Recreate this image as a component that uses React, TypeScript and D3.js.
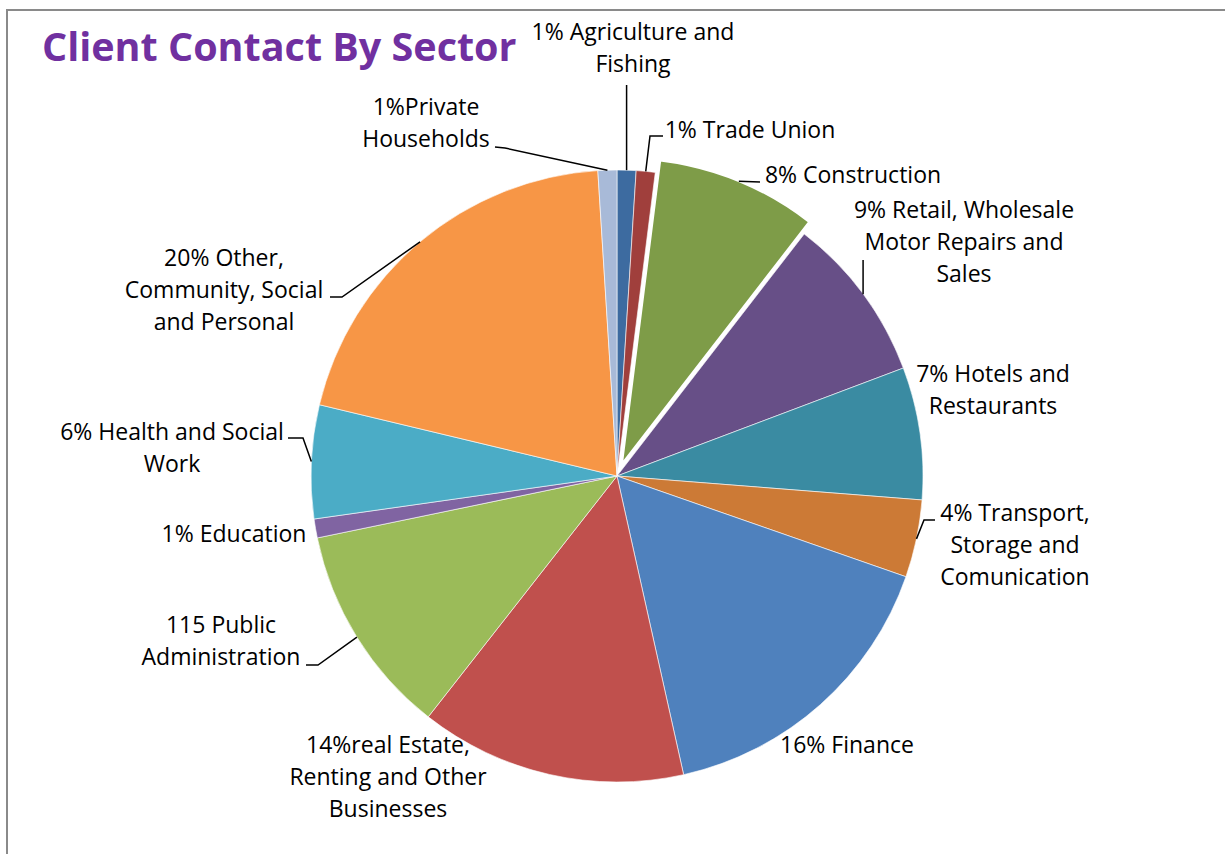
import React from "react";
import * as d3 from "d3";

// ---------- data ----------
const sectors = [
  "Agriculture and Fishing",
  "Trade Union",
  "Construction",
  "Retail, Wholesale Motor Repairs and Sales",
  "Hotels and Restaurants",
  "Transport, Storage and Comunication",
  "Finance",
  "Real Estate, Renting and Other Businesses",
  "Public Administration",
  "Education",
  "Health and Social Work",
  "Other, Community, Social and Personal",
  "Private Households",
];
const values = [1.0, 1.0, 8.5, 8.8, 7.0, 4.1, 16.2, 14.1, 11.2, 1.0, 6.0, 20.3, 1.0];
const colors = [
  "#3D6BA0", "#A03F3C", "#7E9C48", "#674F87", "#3A8BA2", "#CC7A36",
  "#4F81BD", "#C0504D", "#9BBB59", "#8064A2", "#4BACC6", "#F79646", "#A8BAD8",
];
const labelTexts = [
  ["1% Agriculture and", "Fishing"],
  ["1% Trade Union"],
  ["8% Construction"],
  ["9% Retail, Wholesale", "Motor Repairs and", "Sales"],
  ["7% Hotels and", "Restaurants"],
  ["4% Transport,", "Storage and", "Comunication"],
  ["16% Finance"],
  ["14%real Estate,", "Renting and Other", "Businesses"],
  ["115 Public", "Administration"],
  ["1% Education"],
  ["6% Health and Social", "Work"],
  ["20% Other,", "Community, Social", "and Personal"],
  ["1%Private", "Households"],
];
const explodedSector = "Construction";
const title = "Client Contact By Sector";

// ---------- layout ----------
const W = 1225, H = 854;
const CX = 617, CY = 476, R = 306, EXPLODE = 13;
const LINE = 32;
// label centre x, first baseline y, leader points (from arc toward label)
const labelLayout: { x: number; y: number; leader: [number, number][] | null; vertical?: number }[] = [
  { x: 633, y: 40, leader: null, vertical: 85 },
  { x: 750, y: 138, leader: [[650, 136], [663, 136]] },
  { x: 853, y: 183, leader: [[760, 182]] },
  { x: 964, y: 218, leader: null, vertical: 260 },
  { x: 993, y: 382, leader: null },
  { x: 1015, y: 521, leader: [[924, 520], [935, 520]] },
  { x: 847, y: 753, leader: null },
  { x: 388, y: 753, leader: null },
  { x: 221, y: 633, leader: [[318, 665], [306, 665]] },
  { x: 234, y: 542, leader: null },
  { x: 172, y: 440, leader: [[303, 438], [288, 438]] },
  { x: 224, y: 266, leader: [[342, 297], [330, 297]] },
  { x: 426, y: 115, leader: [[505, 148], [495, 147]] },
];

export default function App() {
  const pie = d3
    .pie<number>()
    .sort(null)
    .startAngle(0)
    .endAngle(2 * Math.PI)
    .padAngle(0);
  const arcs = pie(values);
  const arcGen = d3.arc<d3.PieArcDatum<number>>().innerRadius(0).outerRadius(R);

  return (
    <svg
      width={W}
      height={H}
      style={{ position: "absolute", left: 0, top: 0, background: "#fff" }}
      fontFamily="'Open Sans', sans-serif"
    >
      <rect x={7} y={10} width={W + 100} height={H + 100} fill="#fff" stroke="#8a8a8a" strokeWidth={2} />
      <text x={42} y={61} fontSize={39.5} fontWeight="bold" fill="#7030A0">
        {title}
      </text>
      <g>
        {arcs.map((a, i) => {
          const mid = (a.startAngle + a.endAngle) / 2;
          const off = sectors[i] === explodedSector ? EXPLODE : 0;
          const dx = off * Math.sin(mid);
          const dy = -off * Math.cos(mid);
          return (
            <path
              key={sectors[i]}
              d={arcGen(a) || ""}
              transform={`translate(${CX + dx},${CY + dy})`}
              fill={colors[i]}
              stroke="#fff"
              strokeWidth={sectors[i] === explodedSector ? 2 : 0.6}
            />
          );
        })}
      </g>
      <g stroke="#000" strokeWidth={1.5} fill="none">
        {arcs.map((a, i) => {
          const L = labelLayout[i];
          const mid = (a.startAngle + a.endAngle) / 2;
          const off = sectors[i] === explodedSector ? EXPLODE : 0;
          const px = CX + (R + off) * Math.sin(mid);
          const py = CY - (R + off) * Math.cos(mid);
          let pts: [number, number][] | null = null;
          if (L.vertical !== undefined) pts = [[px, py], [px, L.vertical]];
          else if (L.leader) pts = [[px, py], ...L.leader];
          if (!pts) return null;
          return <path key={i} d={d3.line()(pts) || ""} />;
        })}
      </g>
      <g fontSize={23} fill="#000" textAnchor="middle">
        {labelTexts.map((lines, i) => (
          <text key={i} x={labelLayout[i].x} y={labelLayout[i].y}>
            {lines.map((t, j) => (
              <tspan key={j} x={labelLayout[i].x} y={labelLayout[i].y + j * LINE}>
                {t}
              </tspan>
            ))}
          </text>
        ))}
      </g>
    </svg>
  );
}
